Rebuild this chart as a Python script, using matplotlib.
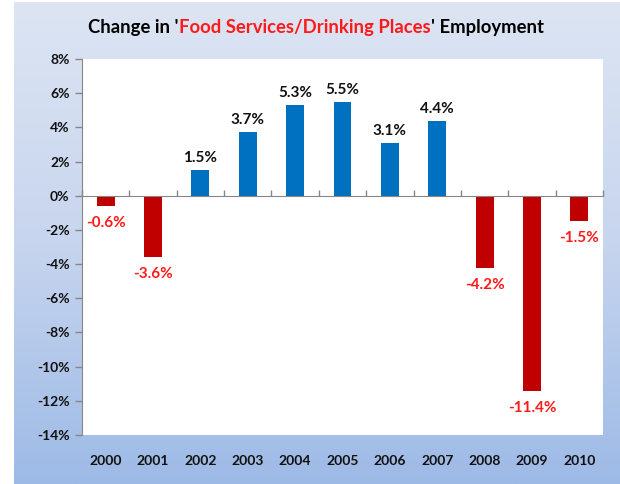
import matplotlib
matplotlib.use("Agg")
import matplotlib.pyplot as plt
import numpy as np
from matplotlib.colors import LinearSegmentedColormap
from matplotlib import transforms

years = ["2000", "2001", "2002", "2003", "2004", "2005", "2006", "2007", "2008", "2009", "2010"]
values = [-0.6, -3.6, 1.5, 3.7, 5.3, 5.5, 3.1, 4.4, -4.2, -11.4, -1.5]
yticks = [8, 6, 4, 2, 0, -2, -4, -6, -8, -10, -12, -14]

plt.rcParams['font.family'] = ['Lato', 'DejaVu Sans']
plt.rcParams['font.weight'] = 'bold'

W, H = 620, 484
fig = plt.figure(figsize=(W / 100, H / 100), dpi=100)
fig.patch.set_facecolor('white')

# gradient background
bg = fig.add_axes([14 / W, 0, 1 - 14 / W, 1 - 2 / H])
cmap = LinearSegmentedColormap.from_list('g', ['#dde5f3', '#c7d5ee', '#9dbae6'])
grad = np.linspace(0, 1, 256).reshape(-1, 1)
bg.imshow(grad, aspect='auto', cmap=cmap, extent=[0, 1, 0, 1], origin='upper')
bg.set_axis_off()

left, right, top, bottom = 82, 603, 59, 435
ax = fig.add_axes([left / W, 1 - bottom / H, (right - left) / W, (bottom - top) / H])
ax.set_facecolor('white')

x = np.arange(len(years))
colors = ['#0070C0' if v >= 0 else '#C00000' for v in values]
ax.bar(x, values, width=0.38, color=colors, zorder=3)

ax.set_xlim(-0.5, len(years) - 0.5)
ax.set_ylim(-14, 8)
ax.set_yticks(yticks)
ax.set_yticklabels([f"{t}%" for t in yticks], fontsize=10, fontweight='bold', color='#111111')
ax.tick_params(axis='y', direction='out', length=5, color='#868686', width=1, pad=4)

ax.spines['top'].set_visible(False)
ax.spines['right'].set_visible(False)
ax.spines['left'].set_color('#868686')
ax.spines['bottom'].set_color('#868686')
ax.spines['bottom'].set_position(('data', 0))
ax.spines['bottom'].set_zorder(4)

ax.set_xticks(np.arange(len(years) + 1) - 0.5)
ax.set_xticklabels([])
ax.tick_params(axis='x', direction='in', length=4, color='#868686', width=1)

trans = transforms.blended_transform_factory(ax.transData, ax.transAxes)
for xi, yr in zip(x, years):
    ax.text(xi, 0, yr, transform=trans + transforms.ScaledTranslation(0, -26 / 100, fig.dpi_scale_trans),
            ha='center', va='center', fontsize=10, fontweight='bold', color='#111111')

for xi, v in zip(x, values):
    label = f"{v:.1f}%"
    if v >= 0:
        ax.annotate(label, (xi, v), xytext=(0, 5), textcoords='offset pixels',
                    ha='center', va='bottom', fontsize=11, fontweight='bold', color='#111111', zorder=5)
    else:
        ax.annotate(label, (xi, v), xytext=(0, -10), textcoords='offset pixels',
                    ha='center', va='top', fontsize=11, fontweight='bold', color='#FF1A1A', zorder=5)

# title with mixed colours
parts = [("Change in '", '#000000'), ("Food Services/Drinking Places", '#FF1A1A'), ("' Employment", '#000000')]
fig.canvas.draw()
renderer = fig.canvas.get_renderer()
tmp = []
total = 0
for s, c in parts:
    t = fig.text(0, 0, s, fontsize=13.3, fontweight='bold', color=c)
    w = t.get_window_extent(renderer).width
    tmp.append((t, w))
    total += w
start = 316 - total / 2
cur = start
for t, w in tmp:
    t.set_position((cur / W, 1 - 27 / H))
    t.set_va('center')
    t.set_ha('left')
    cur += w

fig.savefig('out.png', dpi=100)
